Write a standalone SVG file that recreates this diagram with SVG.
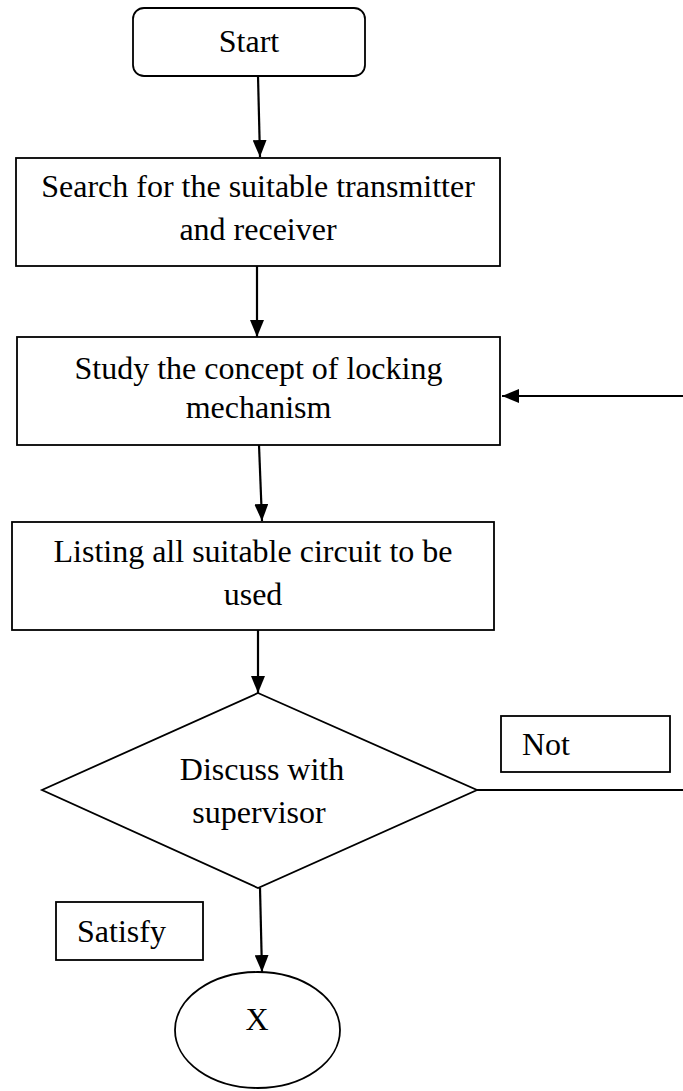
<svg xmlns="http://www.w3.org/2000/svg" width="683" height="1091" viewBox="0 0 683 1091">
<style>
.shape{fill:#fff;stroke:#000;stroke-width:1.8}
.conn{fill:none;stroke:#000;stroke-width:2.2}
text{font-family:"Liberation Serif","Times New Roman",serif;font-size:32px;fill:#000}
.c{text-anchor:middle}
</style>
<defs>
<marker id="ah" markerUnits="userSpaceOnUse" markerWidth="17" markerHeight="14" refX="17" refY="7" orient="auto">
<path d="M0,0 L17,7 L0,14 z" fill="#000"/>
</marker>
</defs>
<rect width="683" height="1091" fill="#fff"/>
<g id="start">
<rect class="shape" x="133" y="8" width="232" height="68" rx="11"/>
<text class="c" x="249" y="52">Start</text>
</g>
<g id="search">
<rect class="shape" x="16" y="158" width="484" height="108"/>
<text class="c" x="258" y="197">Search for the suitable transmitter</text>
<text class="c" x="258" y="240">and receiver</text>
</g>
<g id="study">
<rect class="shape" x="17" y="337" width="483" height="108"/>
<text class="c" x="258.5" y="379">Study the concept of locking</text>
<text class="c" x="258.5" y="418">mechanism</text>
</g>
<g id="listing">
<rect class="shape" x="12" y="522" width="482" height="108"/>
<text class="c" x="253" y="562">Listing all suitable circuit to be</text>
<text class="c" x="253" y="605">used</text>
</g>
<g id="discuss">
<polygon class="shape" points="258,693 477,790 258,888 42,790"/>
<text class="c" x="262" y="780">Discuss with</text>
<text class="c" x="259" y="823">supervisor</text>
</g>
<g id="not">
<rect class="shape" x="501" y="716" width="169" height="56"/>
<text x="522" y="755">Not</text>
</g>
<g id="satisfy">
<rect class="shape" x="56" y="902" width="147" height="58"/>
<text x="77" y="942">Satisfy</text>
</g>
<g id="x">
<ellipse class="shape" cx="257.5" cy="1030" rx="82.5" ry="58"/>
<text class="c" x="257" y="1030">X</text>
</g>
<g id="connectors">
<line class="conn" x1="258" y1="76" x2="260" y2="157" marker-end="url(#ah)"/>
<line class="conn" x1="257" y1="266" x2="257" y2="337" marker-end="url(#ah)"/>
<line class="conn" x1="259" y1="445" x2="262" y2="521" marker-end="url(#ah)"/>
<line class="conn" x1="258" y1="630" x2="258" y2="693" marker-end="url(#ah)"/>
<line class="conn" x1="260" y1="888" x2="262" y2="972" marker-end="url(#ah)"/>
<line class="conn" x1="683" y1="396" x2="502" y2="396" marker-end="url(#ah)"/>
<line class="conn" x1="477" y1="790" x2="683" y2="790"/>
</g>
</svg>
